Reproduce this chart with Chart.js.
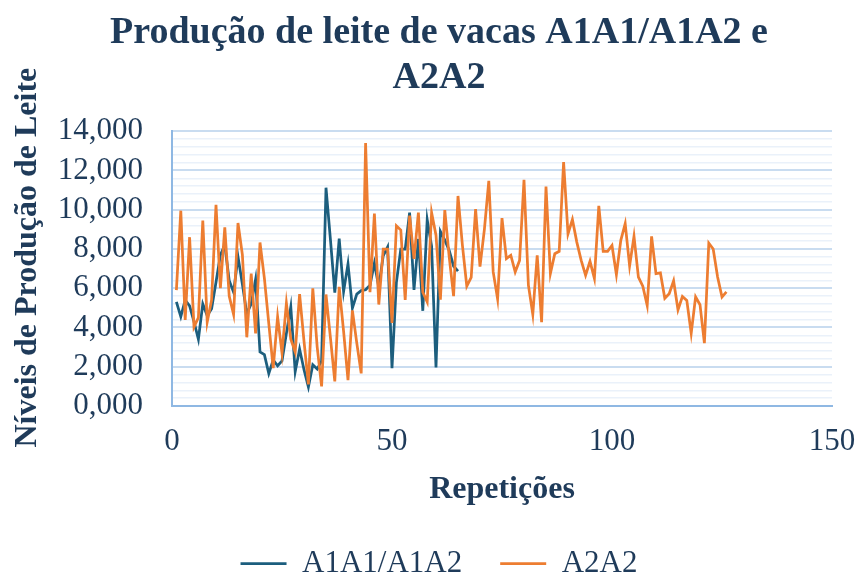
<!DOCTYPE html>
<html>
<head>
<meta charset="utf-8">
<script src="https://cdn.jsdelivr.net/npm/chart.js@4/dist/chart.umd.min.js"></script>
<style>
  html, body { margin: 0; padding: 0; background: #fff; }
  #wrap { width: 858px; height: 576px; }
</style>
</head>
<body>
<div id="wrap"><canvas id="chart" width="858" height="576"></canvas></div>
<script>
// values, one per repetition (starting at 1)
const a1a1Values = [
    5300, 4550, 5400, 5100, 4300, 3400, 5200, 4600, 4950, 6300,
    7700, 8200, 6400, 5800, 7600, 6200, 4700, 5200, 6450, 2750,
    2620, 1650, 2350, 2050, 2300, 3700, 5050, 1750, 2900, 1850,
    970, 2100, 1880, 2300, 11120, 8500, 5780, 8530, 5830, 7240,
    4980, 5700, 5880, 5920, 6150, 7280, 6050, 7650, 8100, 1930,
    6300, 7990, 7990, 9850, 5910, 8510, 4850, 9490, 8150, 1960,
    8890, 8450, 7920, 7120, 6870
];

const a2a2Values = [
    5900, 9950, 4380, 8600, 4030, 4500, 9450, 4280, 5400, 10250,
    6000, 9100, 5600, 4660, 9320, 7700, 3500, 6750, 3700, 8330,
    6500, 4200, 1930, 4540, 2700, 5240, 3400, 2750, 5700, 3300,
    1100, 5990, 3000, 1000, 5680, 3500, 1250, 6070, 3800, 1320,
    4870, 3200, 1660, 13400, 5800, 9800, 5170, 7990, 7990, 4230,
    9180, 8960, 5400, 9700, 7500, 9850, 5800, 5300, 9850, 8700,
    5420, 9980, 7600, 5600, 10700, 8200, 6100, 6550, 10030, 7100,
    9000, 11470, 6830, 5450, 9570, 7510, 7680, 6830, 7420, 11520,
    6160, 4670, 7680, 4270, 11180, 6750, 7760, 7880, 12430, 8770,
    9500, 8350, 7420, 6660, 7370, 6500, 10200, 7880, 7880, 8180,
    6700, 8440, 9290, 7140, 8650, 6570, 6100, 5120, 8640, 6740,
    6780, 5490, 5720, 6380, 4900, 5580, 5380, 3700, 5560, 5160,
    3200, 8300, 8000, 6570, 5550, 5810
];

const seriesNames = ['A1A1/A1A2', 'A2A2'];
const titleLines = ['Produção de leite de vacas A1A1/A1A2 e', 'A2A2'];
const yTitle = 'Níveis de Produção de Leite';
const xTitle = 'Repetições';
const xTicks = [0, 50, 100, 150];

const navy = '#1F3B5A';
const serif = '"Liberation Serif", "Times New Roman", serif';

// repetition number is the position in the list
const toPoints = (values) => values.map((v, i) => ({ x: i + 1, y: v }));

// the reference's y title sits a bit above the middle of the plot, so draw it by hand
const yTitlePlugin = {
    id: 'yTitle',
    afterDraw(chart) {
        const ctx = chart.ctx;
        const area = chart.chartArea;
        ctx.save();
        ctx.translate(28, (area.top + area.bottom) / 2 - 11);
        ctx.rotate(-Math.PI / 2);
        ctx.font = 'bold 32px ' + serif;
        ctx.fillStyle = navy;
        ctx.textAlign = 'center';
        ctx.textBaseline = 'middle';
        ctx.fillText(yTitle, 0, 0);
        ctx.restore();
    }
};

const chart = new Chart(document.getElementById('chart').getContext('2d'), {
    type: 'line',
    data: {
        datasets: [{
            label: seriesNames[0],
            data: toPoints(a1a1Values),
            borderColor: '#1C5E7E',
            backgroundColor: '#1C5E7E',
            borderWidth: 2.75,
            pointRadius: 0,
            tension: 0,
            order: 1
        }, {
            label: seriesNames[1],
            data: toPoints(a2a2Values),
            borderColor: '#ED7D31',
            backgroundColor: '#ED7D31',
            borderWidth: 2.75,
            pointRadius: 0,
            tension: 0,
            order: 0
        }]
    },
    plugins: [yTitlePlugin],
    options: {
        responsive: false,
        animation: false,
        // left padding only to centre the title like the reference; bottom pulls the legend down
        layout: { padding: { left: 20, right: 0, top: 0, bottom: -13 } },
        scales: {
            x: {
                type: 'linear',
                min: 0,
                max: 150,
                afterBuildTicks: (scale) => {
                    scale.ticks = xTicks.map(v => ({ value: v }));
                },
                afterFit: (scale) => {
                    scale.height = 104;
                    scale.paddingRight = 26;
                },
                ticks: {
                    color: navy,
                    font: { family: serif, size: 31 },
                    padding: 17
                },
                grid: { color: 'rgba(0,0,0,0)', drawTicks: false },
                border: { display: true, color: '#8FB8E3', width: 2 },
                title: {
                    display: true,
                    text: xTitle,
                    color: navy,
                    font: { family: serif, size: 32, weight: 'bold' },
                    padding: { top: 0, bottom: 1 }
                }
            },
            y: {
                min: 0,
                max: 14000,
                afterFit: (scale) => { scale.width = 152; },
                ticks: {
                    stepSize: 400,
                    autoSkip: false,
                    color: navy,
                    font: { family: serif, size: 31 },
                    padding: 29,
                    callback: (v) => v % 2000 === 0 ? (v / 1000) + ',000' : ''
                },
                grid: {
                    drawTicks: false,
                    color: (ctx) => ctx.tick && ctx.tick.value % 2000 === 0 ? '#C9DCF0' : '#EAF1FA',
                    lineWidth: (ctx) => ctx.tick && ctx.tick.value % 2000 === 0 ? 2 : 1.5
                },
                border: { display: true, color: '#8FB8E3', width: 2 }
            }
        },
        plugins: {
            title: {
                display: true,
                text: titleLines,
                color: navy,
                font: { family: serif, size: 38, weight: 'bold', lineHeight: 1.2 },
                padding: { top: 10, bottom: 30 }
            },
            legend: {
                position: 'bottom',
                labels: {
                    color: navy,
                    font: { family: serif, size: 31 },
                    usePointStyle: true,
                    pointStyle: 'line',
                    pointStyleWidth: 46,
                    padding: 38,
                    sort: (a, b) => a.datasetIndex - b.datasetIndex
                }
            },
            tooltip: { enabled: false }
        }
    }
});
</script>
</body>
</html>
